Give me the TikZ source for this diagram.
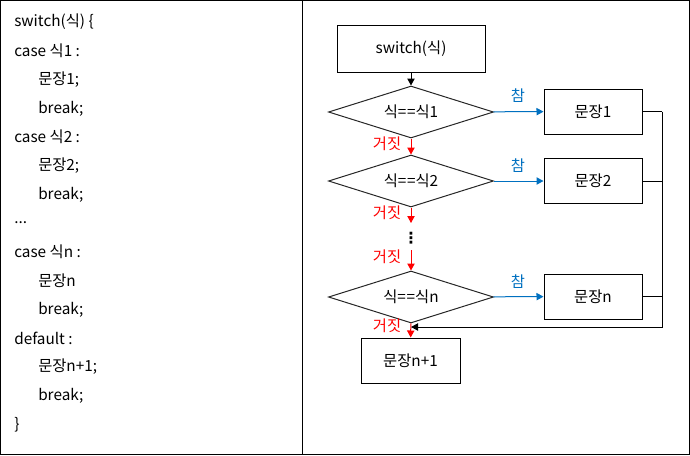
\documentclass[tikz,border=0pt]{standalone}
\usepackage{fontspec}
\setmainfont{Noto Sans CJK KR}
\newfontfamily\symfont{DejaVu Sans}
\usetikzlibrary{shapes.geometric,arrows.meta}
\definecolor{tblue}{HTML}{0070C0}
\definecolor{tred}{HTML}{FF0000}
\tikzset{
  txt/.style={font=\fontsize{11.5}{13}\selectfont},
  box/.style={draw=black,line width=0.75pt,rectangle,minimum width=#1,minimum height=33.75pt,inner sep=0pt,txt},
  cond/.style={draw=black!85,line width=0.75pt,diamond,aspect=3.2,minimum width=123.75pt,minimum height=39pt,inner sep=0pt,txt},
  code/.style={anchor=west,inner sep=0pt,txt},
  lbl/.style={inner sep=0pt,txt},
  tip/.style={-{Triangle[length=5.25pt,width=5.5pt]}},
  wire/.style={line width=0.75pt},
}
\begin{document}
\begin{tikzpicture}[x=0.75pt,y=-0.75pt]
\useasboundingbox (0,0) rectangle (690,455);
\draw[wire] (0.5,0.5) rectangle (689.5,454.5);
\draw[wire] (302.5,0.5) -- (302.5,454.5);
% code
\node[code] (c1) at (14,22) {switch(식) \{};
\node[code] (c2) at (14,51) {case 식1 :};
\node[code] (c3) at (38,80) {문장1;};
\node[code] (c4) at (38,109) {break;};
\node[code] (c5) at (14,137) {case 식2 :};
\node[code] (c6) at (38,166) {문장2;};
\node[code] (c7) at (38,195) {break;};
\node[code] (c8) at (14,223) {...};
\node[code] (c9) at (14,252) {case 식n :};
\node[code] (c10) at (38,281) {문장n};
\node[code] (c11) at (38,310) {break;};
\node[code] (c12) at (14,338) {default :};
\node[code] (c13) at (38,367) {문장n+1;};
\node[code] (c14) at (38,396) {break;};
\node[code] (c15) at (14,425) {\}};
% flowchart
\node[box=111pt,minimum height=35.25pt] (sw) at (411,48.5) {switch(식)};
\node[cond] (d1) at (411,112) {식=\kern0.5pt=식1};
\node[cond] (d2) at (411,181) {식=\kern0.5pt=식2};
\node[cond] (dn) at (411,297) {식=\kern0.5pt=식n};
\node[box=73.5pt] (b1) at (593,111.5) {문장1};
\node[box=73.5pt] (b2) at (593,181) {문장2};
\node[box=73.5pt] (bn) at (593,296.5) {문장n};
\node[box=74.25pt] (bn1) at (410.5,360.5) {문장n+1};
\coordinate (e2) at (411,223);
\coordinate (sn) at (411,250);
\node[lbl] (dots) at (411,238) {\symfont\bfseries ⋮};
\coordinate (r1) at (662,111.5);
\coordinate (r2) at (662,181);
\coordinate (rn) at (662,296.5);
\coordinate (rb) at (662,327);
\coordinate (jn) at (411,327);
\draw[wire,tip] (sw) -- (d1);
\draw[wire,tip,tred] (d1) -- (d2);
\draw[wire,tip,tred] (d2) -- (e2);
\draw[wire,tip,tred] (sn) -- (dn);
\draw[wire,tip,tred] (dn) -- (bn1);
\draw[wire,tip,tblue] (d1) -- (b1);
\draw[wire,tip,tblue] (d2) -- (b2);
\draw[wire,tip,tblue] (dn) -- (bn);
\draw[wire] (b1.east) -- (r1);
\draw[wire] (b2.east) -- (r2);
\draw[wire] (bn.east) -- (rn);
\draw[wire,tip] (r1) -- (rb) -- (jn);
% labels
\node[lbl,tred] (f1) at (387,144) {거짓};
\node[lbl,tred] (f2) at (387,213) {거짓};
\node[lbl,tred] (f3) at (387,257) {거짓};
\node[lbl,tred] (f4) at (387,326) {거짓};
\node[lbl,tblue] (t1) at (518,96) {참};
\node[lbl,tblue] (t2) at (518,166) {참};
\node[lbl,tblue] (t3) at (518,282) {참};
\end{tikzpicture}
\end{document}
